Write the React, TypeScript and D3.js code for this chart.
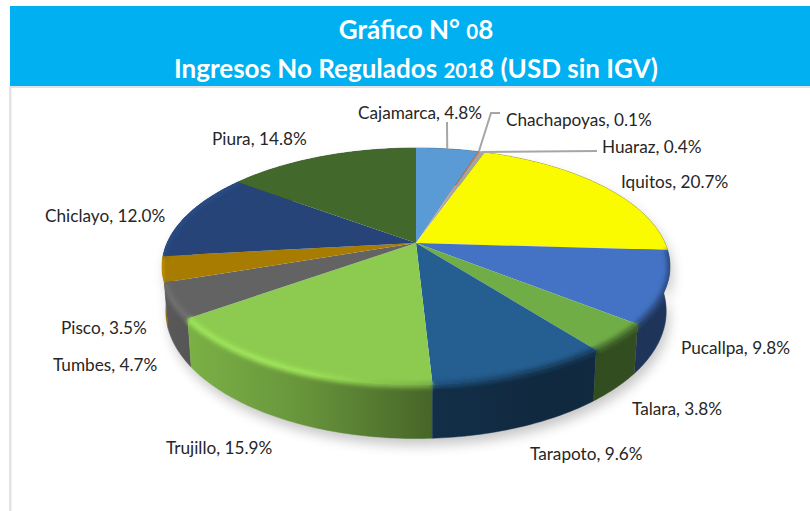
import React from 'react';
import * as d3 from 'd3';

const cities = ['Cajamarca', 'Chachapoyas', 'Huaraz', 'Iquitos', 'Pucallpa', 'Talara', 'Tarapoto', 'Trujillo', 'Tumbes', 'Pisco', 'Chiclayo', 'Piura'];
const shares = [4.8, 0.1, 0.4, 20.7, 9.8, 3.8, 9.6, 15.9, 4.7, 3.5, 12.0, 14.8];
const colors = ['#5b9bd5', '#ed7d31', '#a5a5a5', '#fbfb00', '#4472c4', '#70ad47', '#255e91', '#8dcb50', '#636363', '#a87c00', '#264478', '#43682b'];

// label placement (left edge, vertical centre), same order as cities
const labelX = [358, 506, 602, 621, 681, 632, 530, 166, 53, 61, 45, 212];
const labelY = [112, 119, 146, 181, 347, 408, 453, 447, 364, 327, 215, 138];

const width = 810;
const height = 511;
const cx = 416;
const cy = 243;

// circle seen in perspective, apex stays at (cx, cy)
const tilt = 0.198;
const scaleX = 249;
const scaleY = 113.8;
const depth = 43;

const project = (a: number, down = false): [number, number] => {
  const x = Math.sin(a);
  const y = -Math.cos(a);
  const w = 1 - tilt * y;
  const px = cx + (scaleX * x * (down ? 0.985 : 1)) / w;
  const py = cy + (scaleY * y) / w + (down ? depth / w : 0);
  return [px, py];
};

const arcPoints = (a0: number, a1: number, down = false) => {
  const n = Math.max(2, Math.ceil((a1 - a0) / 0.015));
  return d3.range(n + 1).map((i) => project(a0 + ((a1 - a0) * i) / n, down));
};

const line = d3.line();

// side wall shading runs left to right over the whole pie
const sideShade = d3.scaleLinear().domain([160, 300, 432, 550, 670]).range([0.9, 0.74, 0.5, 0.43, 0.46]);
const rimShade = d3.scaleLinear().domain([160, 300, 432, 550, 670]).range([1.12, 1.14, 0.85, 0.62, 0.65]);

const shade = (c: string, k: number) => {
  const r = d3.rgb(c);
  return d3.rgb(Math.min(255, r.r * k), Math.min(255, r.g * k), Math.min(255, r.b * k)).formatHex();
};

const slices = d3.pie<number>().sort(null)(shares);

const Gradient = ({ id, color, scale, x0, x1 }: any) => (
  <linearGradient id={id} gradientUnits="userSpaceOnUse" x1={x0} x2={x1} y1={0} y2={0}>
    {d3.range(7).map((i) => {
      const x = x0 + ((x1 - x0) * i) / 6;
      return <stop key={i} offset={i / 6} stopColor={shade(color, scale(x))} />;
    })}
  </linearGradient>
);

// the title face has old-style figures: 0, 1 and 2 sit at x-height
const TitleText = ({ y, text }: { y: number; text: string }) => (
  <text x={416} y={y}>
    {text.split(/([012])/).map((part, i) =>
      /^[012]$/.test(part) ? (
        <tspan key={i} fontSize={20.5}>
          {part}
        </tspan>
      ) : (
        <tspan key={i}>{part}</tspan>
      )
    )}
  </text>
);

export default function App() {
  const rendered = slices.map((s, i) => {
    const top = arcPoints(s.startAngle, s.endAngle);
    const bottom = arcPoints(s.startAngle, s.endAngle, true);
    const xs = top.concat(bottom).map((p) => p[0]);
    return {
      i,
      mid: (s.startAngle + s.endAngle) / 2,
      top,
      wall: line(top.concat(bottom.slice().reverse()))!,
      face: line([[cx, cy] as [number, number], ...top])! + 'Z',
      rim: line(top)!,
      x0: d3.min(xs)!,
      x1: d3.max(xs)! + 0.01,
    };
  });

  // back walls first
  const walls = rendered.slice().sort((a, b) => -Math.cos(a.mid) - -Math.cos(b.mid));

  const anchor = (i: number) => project((slices[i].startAngle + slices[i].endAngle) / 2);
  const leaders: [number, number][][] = [
    [[labelX[0] + 89, 122], anchor(0)],
    [[500, 113], [491, 113], anchor(1)],
    [[597, 151], anchor(2)],
  ];

  return (
    <svg
      width={width}
      height={height}
      style={{ position: 'absolute', left: 0, top: 0, fontFamily: 'Lato, sans-serif' }}
    >
      <defs>
        {rendered.map((r) => (
          <React.Fragment key={r.i}>
            <Gradient id={`side-${r.i}`} color={colors[r.i]} scale={sideShade} x0={r.x0} x1={r.x1} />
            <Gradient id={`rim-${r.i}`} color={colors[r.i]} scale={rimShade} x0={r.x0} x1={r.x1} />
          </React.Fragment>
        ))}
        <filter id="soft" x="-10%" y="-10%" width="120%" height="120%">
          <feGaussianBlur stdDeviation="2" />
        </filter>
        <filter id="shadow" x="-10%" y="-20%" width="120%" height="140%">
          <feGaussianBlur stdDeviation="6" />
        </filter>
        <clipPath id="pie-clip">
          {rendered.map((r) => (
            <path key={r.i} d={r.face} />
          ))}
          {rendered.map((r) => (
            <path key={r.i} d={r.wall} />
          ))}
        </clipPath>
      </defs>

      <rect x={0} y={0} width={width} height={height} fill="#ffffff" />
      <rect x={9} y={86} width={2.5} height={height - 86} fill="#e3e3e3" />
      <rect x={9} y={86} width={width - 9} height={2} fill="#e3e3e3" />
      <rect x={10} y={6} width={width - 10} height={80} fill="#00b0f0" />

      <g fill="#ffffff" fontWeight={700} textAnchor="middle" fontSize={26}>
        <TitleText y={39} text="Gráfico N° 08" />
        <TitleText y={78} text="Ingresos No Regulados 2018 (USD sin IGV)" />
      </g>

      {/* soft shadow under the pie */}
      <g filter="url(#shadow)" transform="translate(3,7)" opacity={0.32}>
        {rendered.map((r) => (
          <path key={r.i} d={r.wall} fill="#555555" />
        ))}
      </g>

      {walls.map((r) => (
        <path key={r.i} d={r.wall} fill={`url(#side-${r.i})`} stroke={`url(#side-${r.i})`} strokeWidth={0.5} />
      ))}
      {rendered.map((r) => (
        <path key={r.i} d={r.face} fill={colors[r.i]} />
      ))}

      {/* rounded edge of the top face */}
      <g clipPath="url(#pie-clip)">
        {rendered
          .filter((r) => r.mid > Math.PI * 0.42 && r.mid < Math.PI * 1.62)
          .map((r) => (
            <path
              key={r.i}
              d={r.rim}
              fill="none"
              stroke={`url(#rim-${r.i})`}
              strokeWidth={6}
              filter="url(#soft)"
            />
          ))}
      </g>

      <g fill="none" stroke="#a6a6a6" strokeWidth={2}>
        {leaders.map((l, i) => (
          <path key={i} d={line(l)!} />
        ))}
      </g>

      <g fontSize={17.2} fill="#262626" dominantBaseline="central">
        {cities.map((c, i) => (
          <text key={c} x={labelX[i]} y={labelY[i]}>
            {`${c}, ${shares[i].toFixed(1)}%`}
          </text>
        ))}
      </g>
    </svg>
  );
}
